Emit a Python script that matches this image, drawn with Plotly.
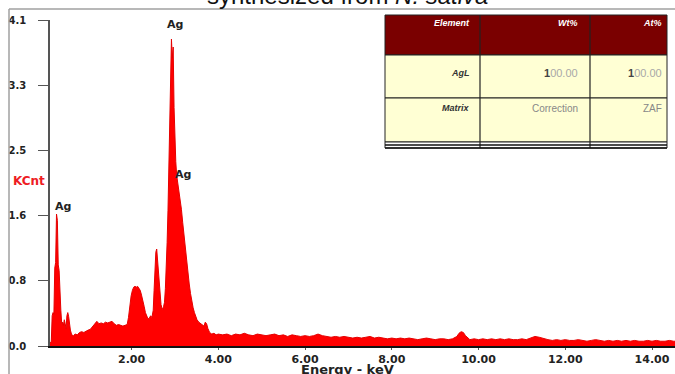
import plotly.graph_objects as go

# ---- data ----
energy_keV = [
    0.12, 0.15, 0.17, 0.19, 0.21, 0.23, 0.25, 0.27, 0.29, 0.31, 0.33, 0.35, 0.37, 0.39,
    0.41, 0.43, 0.45, 0.47, 0.49, 0.51, 0.53, 0.55, 0.57, 0.59, 0.62, 0.66, 0.70, 0.75,
    0.80, 0.85, 0.90, 0.95, 1.00, 1.05, 1.10, 1.15, 1.20, 1.25, 1.30, 1.35, 1.40, 1.45,
    1.50, 1.55, 1.60, 1.65, 1.70, 1.75, 1.80, 1.85, 1.90, 1.93, 1.96, 1.99, 2.02, 2.05,
    2.08, 2.11, 2.14, 2.17, 2.20, 2.23, 2.26, 2.29, 2.32, 2.35, 2.38, 2.41, 2.44, 2.47,
    2.50, 2.52, 2.54, 2.56, 2.58, 2.60, 2.62, 2.64, 2.66, 2.68, 2.70, 2.72, 2.74, 2.76,
    2.78, 2.80, 2.82, 2.84, 2.86, 2.88, 2.90, 2.92, 2.94, 2.96, 2.98, 3.00, 3.02, 3.04,
    3.06, 3.08, 3.10, 3.12, 3.15, 3.18, 3.21, 3.24, 3.27, 3.30, 3.33, 3.36, 3.39, 3.42,
    3.45, 3.48, 3.51, 3.55, 3.59, 3.63, 3.67, 3.70, 3.73, 3.76, 3.80, 3.85, 3.90, 3.95,
    4.00, 4.1, 4.2, 4.3, 4.4, 4.5, 4.6, 4.7, 4.8, 4.9, 5.0, 5.1, 5.2, 5.3, 5.4, 5.5,
    5.6, 5.7, 5.8, 5.9, 6.0, 6.1, 6.2, 6.3, 6.4, 6.5, 6.6, 6.7, 6.8, 6.9, 7.0, 7.1,
    7.2, 7.3, 7.4, 7.5, 7.6, 7.7, 7.8, 7.9, 8.0, 8.1, 8.2, 8.3, 8.4, 8.5, 8.6, 8.7,
    8.8, 8.9, 9.0, 9.1, 9.2, 9.3, 9.4, 9.5, 9.55, 9.6, 9.65, 9.7, 9.75, 9.8, 9.9, 10.0,
    10.1, 10.2, 10.3, 10.4, 10.5, 10.6, 10.7, 10.8, 10.9, 11.0, 11.1, 11.2, 11.3, 11.4,
    11.5, 11.6, 11.7, 11.8, 11.9, 12.0, 12.1, 12.2, 12.3, 12.4, 12.5, 12.6, 12.7, 12.8,
    12.9, 13.0, 13.1, 13.2, 13.3, 13.4, 13.5, 13.6, 13.7, 13.8, 13.9, 14.0, 14.1, 14.2,
    14.3, 14.4, 14.5, 14.6,
]
counts_kcnt = [
    0.03, 0.06, 0.38, 0.42, 0.40, 0.98, 1.05, 1.66, 1.58, 1.02, 0.95, 0.62, 0.45, 0.28,
    0.30, 0.26, 0.33, 0.28, 0.22, 0.38, 0.42, 0.37, 0.28, 0.20, 0.14, 0.13, 0.15, 0.14,
    0.17, 0.18, 0.17, 0.19, 0.20, 0.21, 0.24, 0.27, 0.31, 0.28, 0.29, 0.28, 0.30, 0.29,
    0.30, 0.31, 0.28, 0.26, 0.27, 0.26, 0.25, 0.26, 0.27, 0.36, 0.52, 0.63, 0.70, 0.74,
    0.75, 0.74, 0.75, 0.72, 0.70, 0.64, 0.58, 0.50, 0.42, 0.37, 0.34, 0.35, 0.38, 0.36,
    0.45, 0.70, 0.95, 1.18, 1.22, 1.08, 0.93, 0.80, 0.62, 0.52, 0.48, 0.46, 0.50, 0.55,
    0.72, 0.95, 1.30, 1.70, 2.20, 2.78, 3.30, 3.86, 3.62, 3.76, 3.00, 2.50, 2.32, 2.15,
    2.08, 2.02, 1.94, 1.88, 1.72, 1.55, 1.38, 1.22, 1.06, 0.90, 0.78, 0.66, 0.56, 0.48,
    0.42, 0.37, 0.33, 0.30, 0.28, 0.26, 0.25, 0.30, 0.28, 0.22, 0.17, 0.15, 0.16, 0.14,
    0.15, 0.14, 0.15, 0.13, 0.15, 0.14, 0.16, 0.14, 0.13, 0.15, 0.14, 0.13, 0.14, 0.15, 0.13, 0.14,
    0.12, 0.14, 0.13, 0.12, 0.13, 0.12, 0.13, 0.15, 0.13, 0.12, 0.11, 0.12, 0.11, 0.12, 0.11, 0.10,
    0.11, 0.10, 0.11, 0.12, 0.10, 0.11, 0.10, 0.09, 0.10, 0.09, 0.10, 0.09, 0.10, 0.09, 0.08, 0.09,
    0.10, 0.09, 0.08, 0.09, 0.09, 0.08, 0.09, 0.12, 0.16, 0.18, 0.17, 0.13, 0.10, 0.08, 0.09, 0.08,
    0.09, 0.08, 0.09, 0.08, 0.09, 0.08, 0.09, 0.08, 0.08, 0.09, 0.08, 0.10, 0.12, 0.11,
    0.09, 0.08, 0.07, 0.08, 0.07, 0.08, 0.07, 0.07, 0.08, 0.07, 0.06, 0.07, 0.08, 0.07,
    0.06, 0.07, 0.06, 0.07, 0.06, 0.07, 0.06, 0.07, 0.06, 0.06, 0.07, 0.06, 0.07, 0.06,
    0.06, 0.07, 0.06, 0.06,
]

y_tick_vals = [0, 0.82, 1.64, 2.46, 3.28, 4.1]
y_tick_text = ["0.0", "0.8", "1.6", "2.5", "3.3", "4.1"]
x_tick_vals = [2, 4, 6, 8, 10, 12, 14]
x_tick_text = ["2.00", "4.00", "6.00", "8.00", "10.00", "12.00", "14.00"]

peak_labels = ["Ag", "Ag", "Ag"]
peak_label_x = [3.00, 3.19, 0.41]
peak_label_y = [4.04, 2.16, 1.76]

table_header = ["Element", "Wt%", "At%"]
table_row1 = ["AgL", "100.00", "100.00"]
table_row2 = ["Matrix", "Correction", "ZAF"]

title_text = "synthesized from <i>N. sativa</i>"

# ---- layout geometry (pixels -> paper) ----
W, H = 675, 374
L, R, T, B = 50, 0, 20, 28
PW, PH = W - L - R, H - T - B


def px(x):
    return (x - L) / PW


def py(y):
    return (H - B - y) / PH


fig = go.Figure()
fig.add_trace(go.Scatter(
    x=energy_keV, y=counts_kcnt, mode="lines", fill="tozeroy",
    line=dict(color="#e60000", width=1), fillcolor="#ff0000",
    hoverinfo="skip", showlegend=False,
))

shapes = []
# outer grey frame (top and left edges visible)
shapes.append(dict(type="line", xref="paper", yref="paper", x0=px(9), x1=px(700), y0=py(9), y1=py(9),
                   line=dict(color="#a0a0a0", width=1.5)))
shapes.append(dict(type="line", xref="paper", yref="paper", x0=px(9), x1=px(9), y0=py(9), y1=py(400),
                   line=dict(color="#a0a0a0", width=1.5)))

# table
tx0, tx1 = 385, 667
cols = [385, 480, 590, 667]
rows = [15, 55, 98, 142]
fills = ["#7a0000", "#ffffd4", "#ffffd4"]
for i in range(3):
    shapes.append(dict(type="rect", xref="paper", yref="paper", x0=px(tx0), x1=px(tx1),
                       y0=py(rows[i + 1]), y1=py(rows[i]), fillcolor=fills[i],
                       line=dict(color="#222", width=1)))
shapes.append(dict(type="rect", xref="paper", yref="paper", x0=px(tx0), x1=px(tx1),
                   y0=py(148), y1=py(142), fillcolor="#ffffff", line=dict(color="#222", width=1)))
for c in cols[1:3]:
    shapes.append(dict(type="line", xref="paper", yref="paper", x0=px(c), x1=px(c), y0=py(148), y1=py(15),
                       line=dict(color="#222", width=1.2)))
shapes.append(dict(type="line", xref="paper", yref="paper", x0=px(tx0), x1=px(tx1), y0=py(145), y1=py(145),
                   line=dict(color="#111", width=1.5)))
shapes.append(dict(type="line", xref="paper", yref="paper", x0=px(tx0), x1=px(tx1), y0=py(148), y1=py(148),
                   line=dict(color="#111", width=1.5)))

annotations = []
text_right = [472, 580, 664]
row_text_y = [23, 73, 108]
tfont = "Liberation Sans"
for j, t in enumerate(table_header):
    annotations.append(dict(xref="paper", yref="paper", x=px(text_right[j]), y=py(row_text_y[0]),
                            text="<b><i>%s</i></b>" % t, showarrow=False, xanchor="right", yanchor="middle",
                            font=dict(family=tfont, size=9, color="#ffffff")))
for r, row in enumerate([table_row1, table_row2]):
    for j, t in enumerate(row):
        if j == 0:
            txt = "<b><i>%s</i></b>" % t
            col = "#333333"
            size = 9
        elif t.startswith("1"):
            txt = "<span style='color:#444'><b>1</b></span>" + t[1:]
            col = "#a8a8a8"
            size = 11
        else:
            txt = t
            col = "#888888"
            size = 10
        annotations.append(dict(xref="paper", yref="paper", x=px(text_right[j]), y=py(row_text_y[r + 1]),
                                text=txt, showarrow=False, xanchor="right", yanchor="middle",
                                font=dict(family=tfont, size=size, color=col)))

# peak labels
for lab, xv, yv in zip(peak_labels, peak_label_x, peak_label_y):
    annotations.append(dict(x=xv, y=yv, xref="x", yref="y", text="<b>%s</b>" % lab, showarrow=False,
                            font=dict(family="DejaVu Sans", size=11, color="#222")))

# KCnt axis label
annotations.append(dict(xref="paper", yref="paper", x=px(11), y=py(181), xanchor="left", yanchor="middle",
                        text="<b>KCnt</b>", showarrow=False,
                        font=dict(family="DejaVu Sans", size=12, color="#ee1c24")))
# x-axis title
annotations.append(dict(xref="paper", yref="paper", x=px(347), y=py(369), xanchor="center", yanchor="middle",
                        text="<b>Energy - keV</b>", showarrow=False,
                        font=dict(family="DejaVu Sans", size=13, color="#222")))
# cropped title
annotations.append(dict(xref="paper", yref="paper", x=px(347), y=py(11), xanchor="center", yanchor="bottom",
                        text=title_text, showarrow=False,
                        font=dict(family="Liberation Sans", size=24, color="#111")))

fig.update_layout(
    width=W, height=H, margin=dict(l=L, r=R, t=T, b=B),
    paper_bgcolor="white", plot_bgcolor="white",
    shapes=shapes, annotations=annotations, showlegend=False,
    xaxis=dict(range=[0.12, 14.53], tickvals=x_tick_vals, ticktext=x_tick_text,
               showgrid=False, zeroline=False, showline=True, linecolor="#111", linewidth=2,
               ticks="outside", ticklen=2, tickcolor="#555", tickwidth=1,
               tickfont=dict(family="DejaVu Sans", size=11, color="#222", weight="bold")),
    yaxis=dict(range=[0, 4.1], tickvals=y_tick_vals, ticktext=y_tick_text,
               showgrid=False, zeroline=False, showline=True, linecolor="#555", linewidth=1.5,
               ticks="outside", ticklen=10, tickcolor="#555", tickwidth=1,
               ticklabelstandoff=10,
               tickfont=dict(family="DejaVu Sans", size=10, color="#222", weight="bold")),
)

fig.write_html("out.html", config={"displayModeBar": False},
               post_script="document.body.style.margin='0px';document.body.style.overflow='hidden';")
